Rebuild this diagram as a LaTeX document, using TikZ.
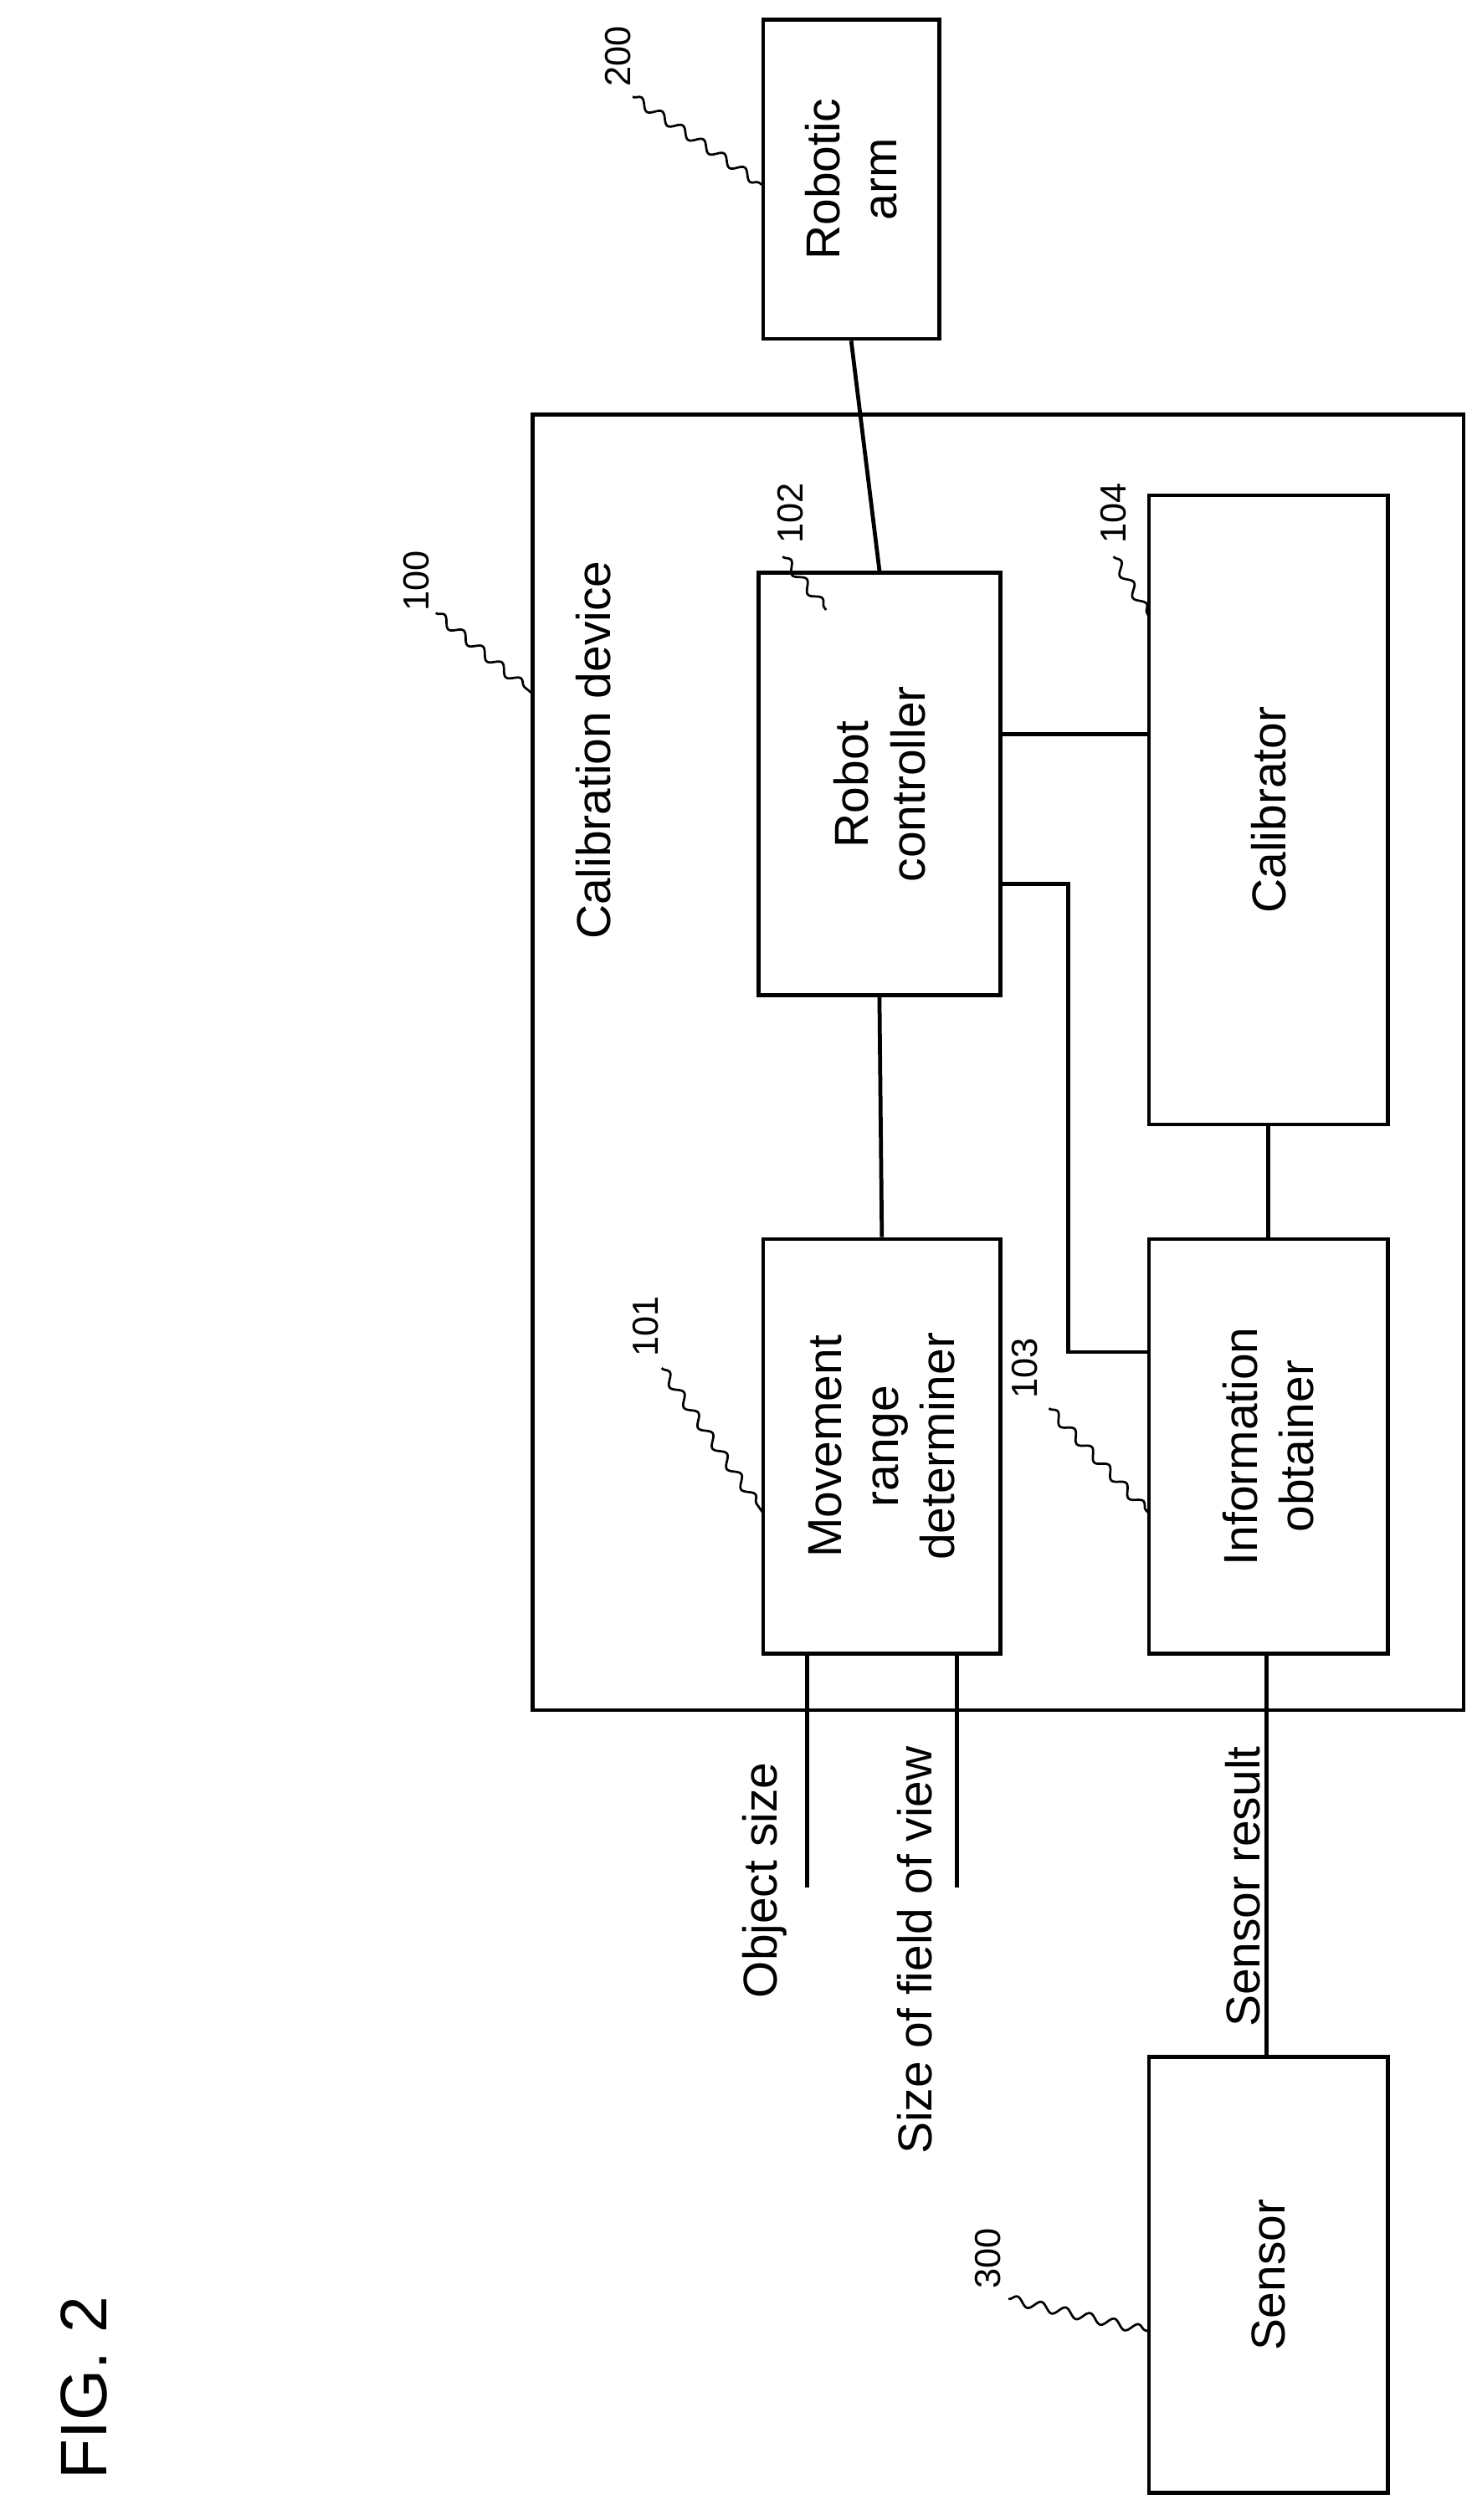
\documentclass[tikz,border=0pt]{standalone}
\usepackage{fontspec}
\setmainfont{Liberation Sans}
\usetikzlibrary{decorations.pathmorphing}
\begin{document}
\begin{tikzpicture}[x=0.05cm,y=-0.05cm,
 box/.style={draw,line width=3.5pt},
 ln/.style={line width=3.5pt},
 lab/.style={rotate=90,font=\fontsize{42}{50}\selectfont,align=center},
 num/.style={rotate=90,font=\fontsize{32}{34}\selectfont},
 wav/.style={line width=2pt,decorate,decoration={snake,amplitude=4pt,segment length=22pt}}]
\useasboundingbox (0,0) rectangle (915,1562);
\node[box,minimum width=577*0.05cm,minimum height=803*0.05cm] (cal) at (618.5,658.5) {};
\node[box,minimum height=109*0.05cm,minimum width=198*0.05cm,lab] (arm) at (527.5,111) {Robotic\\arm};
\node[box,minimum height=150*0.05cm,minimum width=262*0.05cm,lab] (rc) at (545,486) {Robot\\controller};
\node[box,minimum height=148*0.05cm,minimum width=390*0.05cm,lab] (cb) at (786,502) {Calibrator};
\node[box,minimum height=147*0.05cm,minimum width=257*0.05cm,lab] (mr) at (546.5,896.5) {Movement\\range\\determiner};
\node[box,minimum height=148*0.05cm,minimum width=257*0.05cm,lab] (io) at (786,896.5) {Information\\obtainer};
\node[box,minimum height=148*0.05cm,minimum width=270*0.05cm,lab] (se) at (786,1410) {Sensor};
\node[lab] (cdl) at (368,465) {Calibration device};
\node[rotate=90,font=\fontsize{58}{60}\selectfont] (fig) at (52,1480) {FIG. 2};
\node[lab,anchor=east] (os) at (474,1090) {Object size};
\node[lab,anchor=east] (sf) at (567,1080) {Size of field of view};
\node[lab,anchor=east] (sr) at (770,1080) {Sensor result};
\coordinate (o1) at (500,1170); \coordinate (o2) at (593,1170);
\draw[ln] (arm.west) -- (rc.east);
\draw[ln] (rc.west) -- (mr.east);
\draw[ln] (620,455) -- (712,455);
\draw[ln] (620,548) -- (662,548) -- (662,838) -- (712,838);
\draw[ln] (cb.west) -- (io.east);
\draw[ln] (500,1025) -- (o1);
\draw[ln] (593,1025) -- (o2);
\draw[ln] (785,1025) -- (785,1275);
% numerals
\node[num] (n200) at (383,35) {200}; \draw[wav] (392,60) -- (473,115);
\node[num] (n100) at (258,360) {100}; \draw[wav] (270,380) -- (330,430);
\node[num] (n102) at (490,318) {102}; \draw[wav] (485,345) -- (512,378);
\node[num] (n104) at (690,318) {104}; \draw[wav] (690,345) -- (712,382);
\node[num] (n101) at (400,822) {101}; \draw[wav] (410,848) -- (473,938);
\node[num] (n103) at (635,848) {103}; \draw[wav] (650,873) -- (712,938);
\node[num] (n300) at (612,1400) {300}; \draw[wav] (625,1425) -- (712,1445);
\end{tikzpicture}
\end{document}
